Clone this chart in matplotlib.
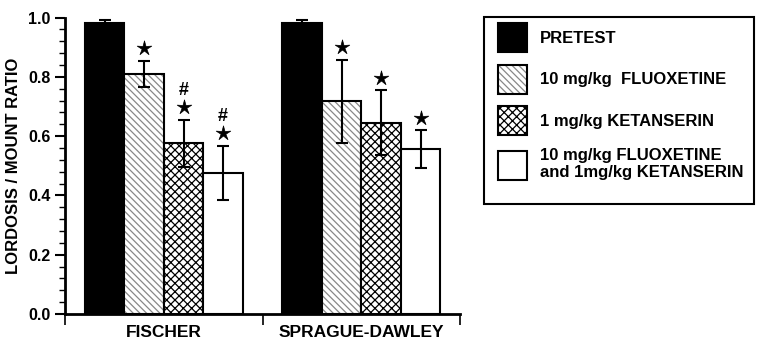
import matplotlib
matplotlib.use("Agg")
import matplotlib.pyplot as plt
from matplotlib.path import Path
from matplotlib.patches import Rectangle
import numpy as np

plt.rcParams['font.family'] = ['Liberation Sans', 'DejaVu Sans']
plt.rcParams['font.weight'] = 'bold'
plt.rcParams['hatch.linewidth'] = 0.9

strains = ["FISCHER", "SPRAGUE-DAWLEY"]
treatments = ["PRETEST", "10 mg/kg  FLUOXETINE", "1 mg/kg KETANSERIN",
              "10 mg/kg FLUOXETINE\nand 1mg/kg KETANSERIN"]
# values[treatment][strain]
means = [[0.983, 0.983],
         [0.810, 0.718],
         [0.576, 0.645],
         [0.477, 0.557]]
errors = [[0.008, 0.009],
          [0.044, 0.140],
          [0.079, 0.110],
          [0.091, 0.063]]
# significance marks: star (vs pretest), hash (vs fluoxetine)
stars = [[False, False], [True, True], [True, True], [True, True]]
hashes = [[False, False], [False, False], [True, False], [True, False]]

fills = ['black', 'white', 'white', 'white']
hatch_list = [None, '\\\\\\\\\\', 'xxxx', None]
hatch_cols = ['black', '#888888', 'black', 'black']

# thin-armed star marker
ang = np.pi / 2 + np.arange(10) * np.pi / 5
rad = np.where(np.arange(10) % 2 == 0, 1.0, 0.33)
verts = np.column_stack([rad * np.cos(ang), rad * np.sin(ang)])
verts = np.vstack([verts, verts[:1]])
star_marker = Path(verts, [Path.MOVETO] + [Path.LINETO] * 9 + [Path.CLOSEPOLY])

W, H = 765, 354
fig = plt.figure(figsize=(W / 100, H / 100), dpi=100)
ax = fig.add_axes([65/W, 1-314/H, (460-65)/W, (314-17.5)/H])

centers = np.arange(len(strains)) + 0.5
bw = 0.2
for i, t in enumerate(treatments):
    xs = centers + (i - 1.5) * bw
    bars = ax.bar(xs, means[i], width=bw, color=fills[i], edgecolor='black',
                  linewidth=1.5, hatch=hatch_list[i], label=t, zorder=2)
    for b in bars:
        b._hatch_color = matplotlib.colors.to_rgba(hatch_cols[i])
    ax.errorbar(xs, means[i], yerr=errors[i], fmt='none', ecolor='black',
                elinewidth=1.5, capsize=4.5, capthick=1.5, zorder=3)
    for j in range(len(strains)):
        top = means[i][j] + errors[i][j]
        if stars[i][j]:
            ax.plot(xs[j], top + 0.042, marker=star_marker, color='black',
                    markersize=11, markeredgewidth=0.5, zorder=4, clip_on=False)
        if hashes[i][j]:
            ax.text(xs[j], top + 0.099, '#', ha='center', va='center',
                    fontsize=13, fontweight='bold')

ax.set_xlim(0, 2)
ax.set_ylim(0, 1.0)
ax.set_xticks([0, 1, 2])
ax.set_xticklabels([])
ax.set_xticks(centers, minor=True)
ax.set_xticklabels(strains, minor=True, fontsize=12.5, fontweight='bold')
ax.tick_params(axis='x', which='major', direction='out', length=8, width=1.2)
ax.tick_params(axis='x', which='minor', length=0, pad=8)
ax.set_yticks(np.arange(0, 1.01, 0.2))
ax.set_yticklabels([f"{v:.1f}" for v in np.arange(0, 1.01, 0.2)],
                   fontsize=11.5, fontweight='bold')
ax.set_yticks(np.arange(0, 1.001, 0.04), minor=True)
ax.tick_params(axis='y', which='major', direction='out', length=7, width=1.5)
ax.tick_params(axis='y', which='minor', direction='out', length=4, width=1.0)
for s in ['top', 'right']:
    ax.spines[s].set_visible(False)
for s in ['left', 'bottom']:
    ax.spines[s].set_linewidth(2)
ax.set_ylabel("LORDOSIS / MOUNT RATIO", fontsize=12, fontweight='bold',
              labelpad=5)

# legend frame
fig.patches.append(Rectangle((484/W, 1-204/H), (754-484)/W, (204-16.7)/H,
                             transform=fig.transFigure, fill=False,
                             edgecolor='black', linewidth=1.5))
leg = fig.legend(loc='upper left', bbox_to_anchor=(497.7/W, 1-23.0/H),
                 borderaxespad=0, prop={'weight': 'bold', 'size': 12},
                 handlelength=1.75, handleheight=2.3, handletextpad=0.8,
                 borderpad=0, labelspacing=0.76, frameon=False)

fig.savefig("out.png", dpi=100)
